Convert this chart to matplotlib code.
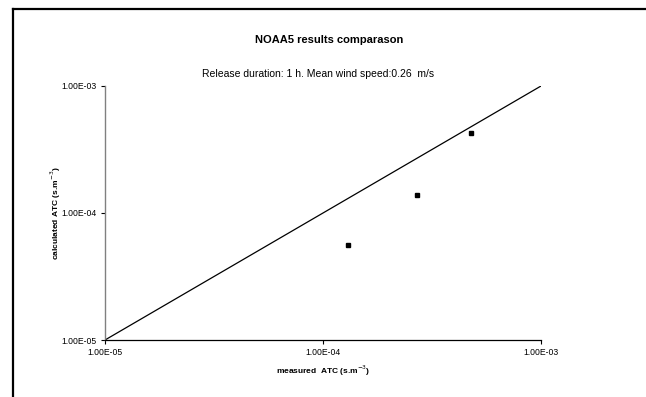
import numpy as np
import matplotlib
matplotlib.use('Agg')
import matplotlib.pyplot as plt
from matplotlib.lines import Line2D
from matplotlib.ticker import FixedLocator, NullLocator

plt.rcParams['font.family'] = ['Liberation Sans', 'DejaVu Sans']

# measured vs calculated ATC (s.m^-3)
measured = [1.30e-4, 2.69e-4, 4.78e-4]
calculated = [5.57e-5, 1.39e-4, 4.27e-4]
ref_line = [1e-5, 1e-3]
ticks = [1e-5, 1e-4, 1e-3]
tick_labels = ['1.00E-05', '1.00E-04', '1.00E-03']

fig = plt.figure(figsize=(6.46, 3.97), dpi=100)
ax = fig.add_axes([105/646, 1-340/397, 436/646, 254/397])

ax.plot(ref_line, ref_line, color='black', lw=0.9)
ax.plot(measured, calculated, 's', color='black', ms=3.5, clip_on=False)

ax.set_xscale('log')
ax.set_yscale('log')
ax.set_xlim(1e-5, 1e-3)
ax.set_ylim(1e-5, 1e-3)
for a in (ax.xaxis, ax.yaxis):
    a.set_major_locator(FixedLocator(ticks))
    a.set_minor_locator(NullLocator())
ax.set_xticklabels(tick_labels)
ax.set_yticklabels(tick_labels)
ax.tick_params(labelsize=6.2, length=3, width=0.8, color='black', pad=3)

for s in ('top', 'right'):
    ax.spines[s].set_visible(False)
ax.spines['left'].set_color('#808080')
ax.spines['left'].set_linewidth(1.0)
ax.spines['bottom'].set_linewidth(0.9)

ax.set_xlabel('measured  ATC (s.m$^{-3}$)', fontsize=6, fontweight='bold')
ax.set_ylabel('calculated ATC (s.m$^{-3}$)', fontsize=6, fontweight='bold')
ax.xaxis.set_label_coords(0.5, -0.092)
ax.yaxis.set_label_coords(-0.097, 0.5)

fig.text(329/646, 1-40/397, 'NOAA5 results comparason', ha='center', va='center',
         fontsize=8, fontweight='bold')
fig.text(318/646, 1-74/397, 'Release duration: 1 h. Mean wind speed:0.26  m/s',
         ha='center', va='center', fontsize=7.5)

# outer frame (left and top edges)
fig.add_artist(Line2D([12.5/646, 12.5/646], [0, 1-9/397], color='black', lw=1.6,
                      transform=fig.transFigure))
fig.add_artist(Line2D([12.5/646, 1], [1-9/397, 1-9/397], color='black', lw=1.6,
                      transform=fig.transFigure))

fig.savefig('out.png', dpi=100)
